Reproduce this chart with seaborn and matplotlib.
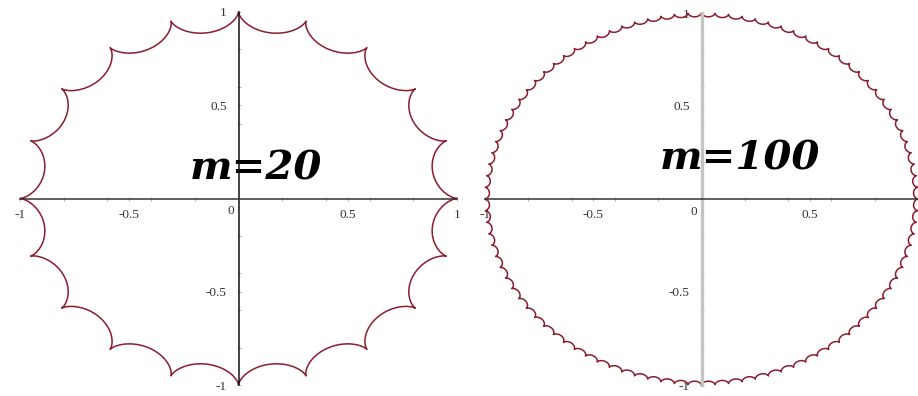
import numpy as np
import pandas as pd
import matplotlib
matplotlib.use("Agg")
import matplotlib.pyplot as plt
from matplotlib.ticker import FixedLocator, NullFormatter
import seaborn as sns

sns.set_theme(style="white")
plt.rcParams["font.family"] = ["Liberation Serif", "DejaVu Serif"]

# number of cusps for each hypocycloid panel
cusps = [20, 100]
labels = ["m=20", "m=100"]
outer_radius = 1.0
major_ticks = [-1, -0.5, 0.5, 1]
major_labels = ["-1", "-0.5", "0.5", "1"]
minor_ticks = [-0.8, -0.6, -0.4, -0.2, 0.2, 0.4, 0.6, 0.8]

curve_color = "#8a1d2e"


def hypocycloid(m, R=1.0, n=6000):
    """Hypocycloid with m cusps on a circle of radius R (rolling radius R/m)."""
    r = R / m
    t = np.linspace(0, 2 * np.pi, n)
    x = (R - r) * np.cos(t) + r * np.cos((R - r) / r * t)
    y = (R - r) * np.sin(t) - r * np.sin((R - r) / r * t)
    return pd.DataFrame({"x": x, "y": y})


fig = plt.figure(figsize=(9.18, 3.96), dpi=100)
axes_rects = [
    [20 / 918, 11 / 396, 437 / 918, 373 / 396],
    [485 / 918, 11 / 396, 433 / 918, 372 / 396],
]
yaxis_styles = [("#111111", 1.1), ("#c4c4c4", 2.4)]
text_pos = [(0.078, 0.16), (0.176, 0.22)]
# the right-hand panel ends at the figure edge, so its x = 1 label is dropped
xlabel_sets = [major_labels, ["-1", "-0.5", "0.5", ""]]

for i, m in enumerate(cusps):
    ax = fig.add_axes(axes_rects[i])
    df = hypocycloid(m, outer_radius)
    sns.lineplot(data=df, x="x", y="y", sort=False, estimator=None,
                 color=curve_color, linewidth=1.1, ax=ax)
    for line in ax.get_lines():
        line.set_clip_on(False)

    ax.set_xlim(-1, 1)
    ax.set_ylim(-1, 1)
    ax.set_xlabel("")
    ax.set_ylabel("")
    ax.set_facecolor("none")

    # axes through the origin
    ax.spines["left"].set_position("zero")
    ax.spines["bottom"].set_position("zero")
    ax.spines["top"].set_visible(False)
    ax.spines["right"].set_visible(False)
    ax.spines["bottom"].set_color("#333333")
    ax.spines["bottom"].set_linewidth(1.1)
    ax.spines["left"].set_color(yaxis_styles[i][0])
    ax.spines["left"].set_linewidth(yaxis_styles[i][1])

    ax.set_xticks(major_ticks)
    ax.set_xticklabels(xlabel_sets[i])
    ax.set_yticks(major_ticks)
    ax.set_yticklabels(major_labels)
    ax.xaxis.set_minor_locator(FixedLocator(minor_ticks))
    ax.yaxis.set_minor_locator(FixedLocator(minor_ticks))
    ax.xaxis.set_minor_formatter(NullFormatter())
    ax.yaxis.set_minor_formatter(NullFormatter())
    ax.tick_params(which="both", direction="inout", length=3, width=0.6,
                   color="#aaaaaa", labelsize=9.5, labelcolor="#333333",
                   bottom=True, left=True)
    ax.tick_params(axis="x", pad=6)
    ax.tick_params(axis="y", pad=7)
    ax.text(-0.02, -0.035, "0", ha="right", va="top", fontsize=9.5,
            color="#333333")

    ax.text(text_pos[i][0], text_pos[i][1], labels[i], ha="center",
            va="center", fontsize=29, fontweight="bold", fontstyle="italic",
            family="DejaVu Serif", color="black")

fig.savefig("out.png", dpi=100)
